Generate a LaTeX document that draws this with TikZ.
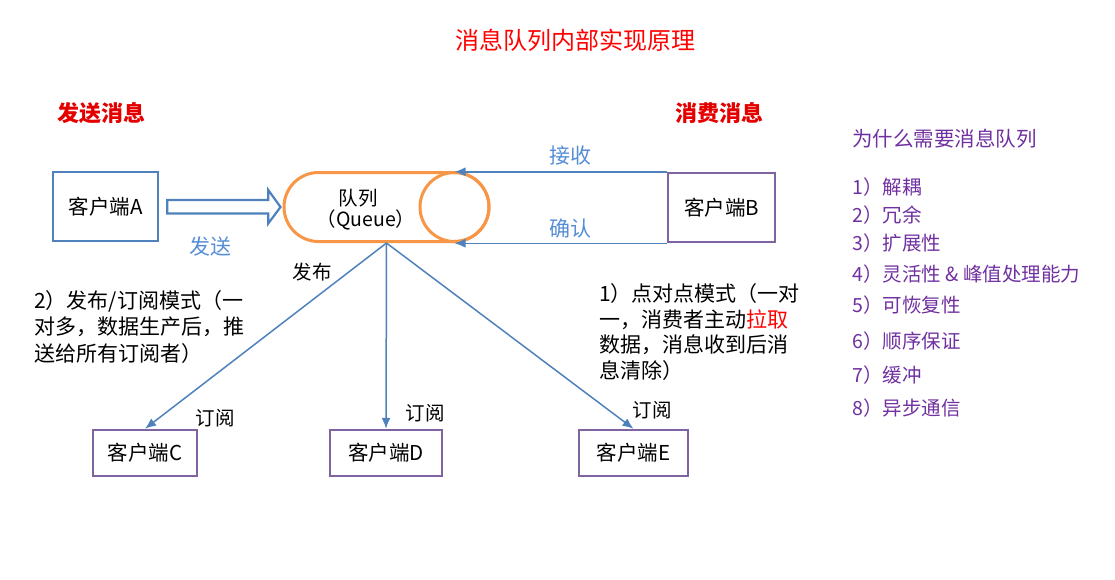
\documentclass[tikz,border=0pt]{standalone}
\usepackage{fontspec}
\setmainfont{Noto Sans CJK SC}
\usetikzlibrary{arrows.meta,positioning,calc}
\definecolor{lineblue}{HTML}{4F81BD}
\definecolor{textblue}{HTML}{558ED5}
\definecolor{qorange}{HTML}{F79646}
\definecolor{boxpurple}{HTML}{8064A2}
\definecolor{listpurple}{HTML}{7030A0}

\begin{document}
\begin{tikzpicture}[x=1pt, y=-1pt, inner sep=0pt,
    every node/.style={font=\fontsize{19.5}{24}\selectfont},
    client/.style={draw, line width=2.5pt, minimum height=69pt, font=\fontsize{20.5}{24}\selectfont},
    link/.style={lineblue, line width=1.5pt, -{Latex[length=11pt,width=9pt]}}]
    \useasboundingbox (0,0) rectangle (1115,579);
    \node[font=\fontsize{24}{28}\selectfont, red] (title) at (575,40) {消息队列内部实现原理};
    \node[font=\fontsize{22}{26}\selectfont\bfseries, red!90!black] (sendhd) at (101,113) {发送消息};
    \node[font=\fontsize{22}{26}\selectfont\bfseries, red!90!black] (consumehd) at (719,113) {消费消息};

    \node[client, draw=lineblue, minimum width=105pt] (cliA) at (105.5,206.5) {客户端A};
    \node[draw=qorange, line width=3pt, rounded corners=34.5pt, minimum width=205pt, minimum height=69pt] (queue) at (386.5,207) {};
    \node[draw=qorange, line width=3pt, circle, minimum size=69pt] (qend) at (454.5,207) {};
    \node (qname) at (358,198) {队列};
    \node (qeng) at (366,220) {（Queue）};
    \draw[lineblue, line width=2.2pt, fill=white] ($(cliA.east)+(8,-6.5)$) -- ++(101,0) -- ++(0,-10)
        -- ($(queue.west)+(-2,0)$) -- ($(cliA.east)+(109,17)$) -- ++(0,-10) -- ($(cliA.east)+(8,7)$) -- cycle;
    \node[font=\fontsize{21}{24}\selectfont, textblue] (sendlbl) at (210,247) {发送};

    \node[client, draw=boxpurple, minimum width=107pt] (cliB) at (721.5,207.5) {客户端B};
    \draw[link] (cliB.north west) -- (cliB.north west -| qend.north);
    \draw[link] (cliB.south west) -- (cliB.south west -| qend.south);
    \node[font=\fontsize{21}{24}\selectfont, textblue] (recvlbl) at (570,156) {接收};
    \node[font=\fontsize{21}{24}\selectfont, textblue] (acklbl) at (570,228) {确认};

    \node[client, draw=boxpurple, minimum width=104pt, minimum height=46pt] (cliC) at (145,453) {客户端C};
    \node[client, draw=boxpurple, minimum width=112pt, minimum height=46pt] (cliD) at (386,453) {客户端D};
    \node[client, draw=boxpurple, minimum width=109pt, minimum height=46pt] (cliE) at (633.5,453) {客户端E};
    \coordinate (fan) at (queue.south);
    \foreach \c in {cliC,cliD,cliE}
        \draw[link] (fan) -- (\c.north);
    \node (publbl) at (312,272) {发布};
    \node (subC) at (215,418) {订阅};
    \node (subD) at (425,413) {订阅};
    \node (subE) at (652,410) {订阅};

    \node[anchor=west, align=left, font=\fontsize{21}{26.5}\selectfont] (pubsub) at (34,327)
        {2）发布/订阅模式（一\\对多，数据生产后，推\\送给所有订阅者）};
    \node[anchor=west, align=left, font=\fontsize{21}{25.7}\selectfont] (ptp) at (599,332)
        {1）点对点模式（一对\\一，消费者主动\textcolor{red}{拉取}\\数据，消息收到后消\\息清除）};

    \node[listpurple, anchor=west, font=\fontsize{20.5}{24}\selectfont] (whyhd) at (852,139) {为什么需要消息队列};
    \foreach \i/\y/\txt in {1/187/解耦, 2/215/冗余, 3/243/扩展性, 4/274/灵活性 \& 峰值处理能力,
        5/305/可恢复性, 6/341/顺序保证, 7/375/缓冲, 8/408/异步通信}
        \node[listpurple, anchor=west] (why\i) at (852,\y) {\i）\txt};
\end{tikzpicture}
\end{document}
